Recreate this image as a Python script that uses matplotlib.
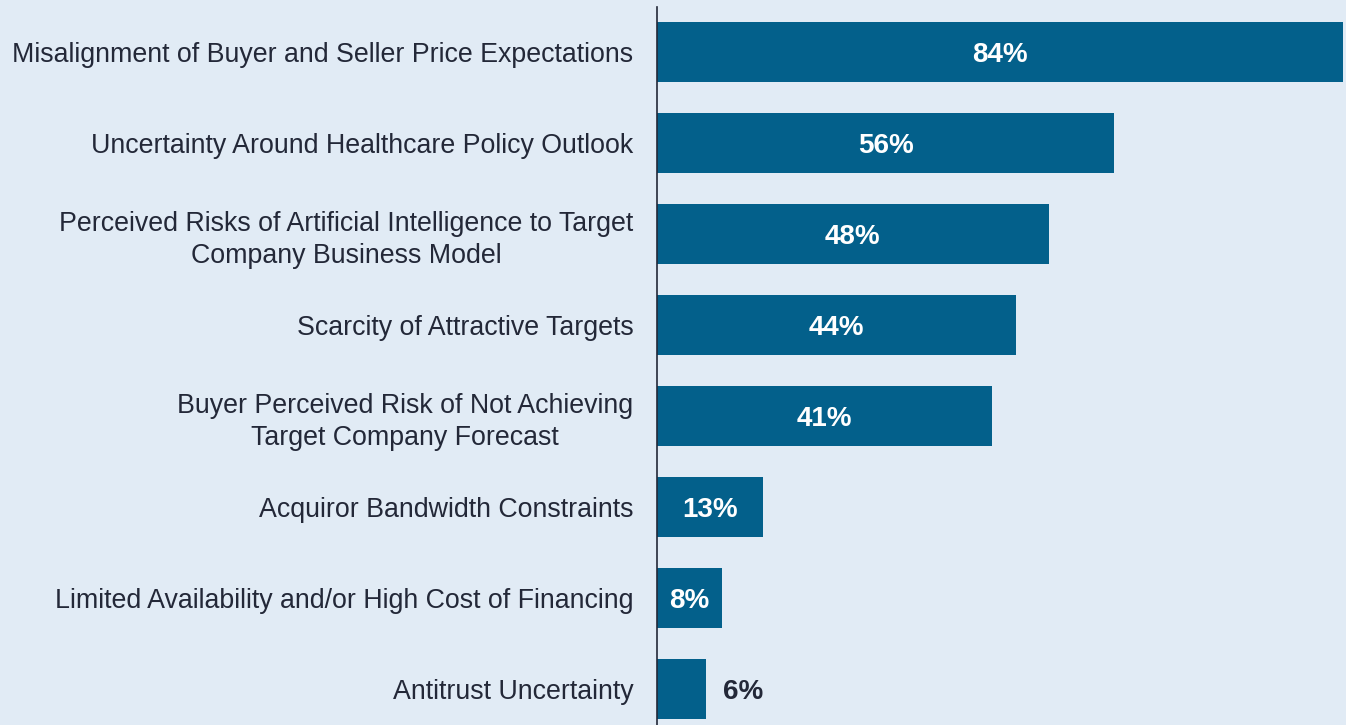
import matplotlib.pyplot as plt

# Data
categories = [
    "Misalignment of Buyer and Seller Price Expectations",
    "Uncertainty Around Healthcare Policy Outlook",
    "Perceived Risks of Artificial Intelligence to Target\nCompany Business Model",
    "Scarcity of Attractive Targets",
    "Buyer Perceived Risk of Not Achieving\nTarget Company Forecast",
    "Acquiror Bandwidth Constraints",
    "Limited Availability and/or High Cost of Financing",
    "Antitrust Uncertainty",
]
values = [84, 56, 48, 44, 41, 13, 8, 6]

bg = '#e1ebf5'
bar_color = '#03608b'
text_color = '#232838'

plt.rcParams['font.family'] = ['Liberation Sans', 'DejaVu Sans']

fig = plt.figure(figsize=(13.46, 7.25), dpi=100, facecolor=bg)
ax = fig.add_axes([657 / 1346, 0, 1 - 657 / 1346, 718 / 725])
ax.set_facecolor(bg)

y = list(range(len(values)))
ax.barh(y, values, height=0.66, color=bar_color)

ax.set_xlim(0, 84.4)
ax.set_ylim(7.396, -0.495)
ax.set_yticks(y)
ax.set_yticklabels(categories, fontsize=19.3, color=text_color, ha='right',
                   multialignment='center', linespacing=1.3)
ax.tick_params(axis='y', length=0, pad=17)
ax.set_xticks([])

for s in ['top', 'right', 'bottom']:
    ax.spines[s].set_visible(False)
ax.spines['left'].set_color(text_color)
ax.spines['left'].set_linewidth(1.2)

for i, v in enumerate(values):
    if v >= 8:
        ax.text(v / 2, i, f"{v}%", ha='center', va='center_baseline', color='white',
                fontsize=20, fontweight='bold')
    else:
        ax.text(v + 2.1, i, f"{v}%", ha='left', va='center_baseline', color=text_color,
                fontsize=20, fontweight='bold')

plt.savefig('out.png', dpi=100, facecolor=bg)
